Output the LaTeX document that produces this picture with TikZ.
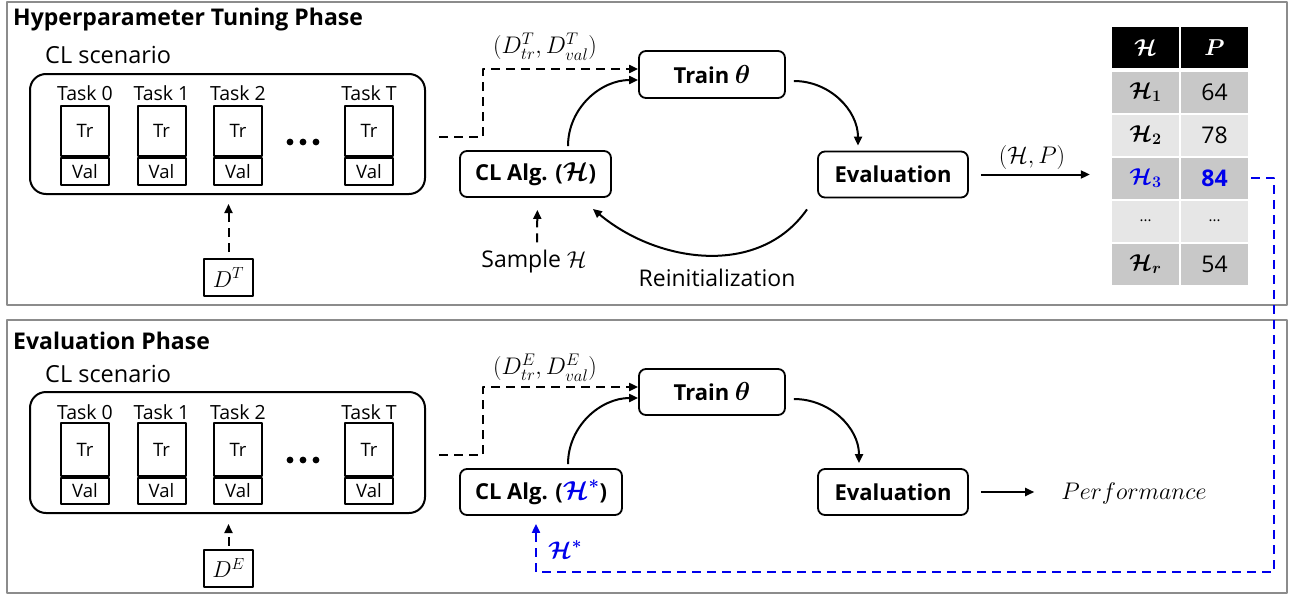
\RequirePackage{fix-cm}
\documentclass[tikz,border=0pt]{standalone}
\usepackage{amsmath}
\usepackage{bm}
\usepackage{fontspec}
\setmainfont{Open Sans}
\usetikzlibrary{arrows.meta}
\definecolor{frameg}{RGB}{140,140,140}
\definecolor{hblue}{RGB}{0,0,235}
\definecolor{rowdark}{RGB}{200,200,200}
\definecolor{rowlight}{RGB}{230,230,230}
\newcommand{\boxmath}[1]{{\fontsize{26}{28}\selectfont$#1$}}
\tikzset{
  frame/.style={draw=frameg, line width=2pt},
  ttl/.style={anchor=west, inner sep=0, font=\fontsize{23}{27}\selectfont\bfseries},
  sub/.style={anchor=west, inner sep=0, font=\fontsize{23.5}{28}\selectfont},
  scen/.style={draw, line width=2pt, rounded corners=16pt, minimum width=395pt, minimum height=120pt, inner sep=0},
  rbox/.style={draw, line width=1.8pt, rounded corners=7pt, inner sep=0, minimum height=46pt, font=\fontsize{22}{26}\selectfont\bfseries},
  trbox/.style={draw, line width=2pt, minimum width=48pt, inner sep=0, font=\fontsize{18.5}{21}\selectfont},
  tasklab/.style={inner sep=0, font=\fontsize{19.5}{23}\selectfont},
  dbox/.style={draw, line width=2pt, minimum width=49pt, minimum height=37pt, inner sep=0, font=\fontsize{23}{27}\selectfont},
  arr/.style={line width=2pt, -{Triangle[length=9pt,width=8pt]}},
  darr/.style={arr, dash pattern=on 9pt off 6pt},
  cell/.style={minimum width=67pt, minimum height=41pt, inner sep=0, font=\fontsize{23}{27}\selectfont},
  lbl/.style={inner sep=0, font=\fontsize{23}{27}\selectfont},
  mlbl/.style={inner sep=0, font=\fontsize{24}{28}\selectfont},
}
\begin{document}
\begin{tikzpicture}[x=1pt, y=-1pt, line join=round]
\useasboundingbox (0,0) rectangle (1289,594);
% frames
\draw[frame] (7,2) rectangle (1287,305);
\draw[frame] (7,320) rectangle (1287,593);
\node[ttl] (title1) at (13,20) {Hyperparameter Tuning Phase};
\node[ttl] (title2) at (13,341) {Evaluation Phase};
\node[sub] (cls1) at (45,55) {CL scenario};
\node[sub] (cls2) at (45,374) {CL scenario};
% scenario boxes
\node[scen] (scen1) at (227.5,134) {};
\node[scen, minimum height=121pt] (scen2) at (227.5,452.5) {};
\foreach \i/\x in {0/85,1/161.5,2/238,T/369}{
  \node[tasklab] (ta\i) at (\x,93) {Task \i};
  \node[trbox, minimum height=50pt] (tra\i) at (\x,131) {Tr};
  \node[trbox, minimum height=27pt, anchor=north] (vala\i) at (tra\i.south) {Val};
  \node[tasklab] (tb\i) at (\x,412) {Task \i};
  \node[trbox, minimum height=53pt] (trb\i) at (\x,449.5) {Tr};
  \node[trbox, minimum height=26pt, anchor=north] (valb\i) at (trb\i.south) {Val};
}
\foreach \x in {290,303,316}{
  \fill (\x,142) circle (3.4);
  \fill (\x,460) circle (3.4);
}
% data boxes
\node[dbox] (dT) at (228.5,277.5) {$D^{T}$};
\node[dbox] (dE) at (228.5,568) {$D^{E}$};
\draw[darr, shorten <=6pt, shorten >=9pt] (dT) -- (dT |- scen1.south);
\draw[darr, shorten <=3pt, shorten >=10pt] (dE) -- (dE |- scen2.south);
% main boxes top
\node[rbox, minimum width=146pt, minimum height=47pt] (train1) at (712,74.5) {Train \boxmath{\bm{\theta}}};
\node[rbox, minimum width=151pt] (cl1) at (535.5,174) {CL Alg. (\boxmath{\bm{\mathcal{H}}})};
\node[rbox, minimum width=150pt] (ev1) at (893,174.5) {Evaluation};
% main boxes bottom
\node[rbox, minimum width=146pt] (train2) at (712,392) {Train \boxmath{\bm{\theta}}};
\node[rbox, minimum width=162pt] (cl2) at (541,492) {CL Alg. (\textcolor{hblue}{\boxmath{\bm{\mathcal{H}^{*}}}})};
\node[rbox, minimum width=150pt] (ev2) at (893,492) {Evaluation};
% connectors top
\draw[darr] ([xshift=13pt,yshift=-3pt]scen1.east) -- ++(44,0) |- ([yshift=5.5pt]train1.west);
\node[mlbl] (dlab1) at (545,47) {$(D_{tr}^{T},D_{val}^{T})$};
\draw[arr] ([xshift=32.5pt,yshift=4pt]cl1.north) to[out=90,in=180] ([yshift=-5.5pt]train1.west);
\draw[arr] ([xshift=8pt,yshift=-6.5pt]train1.east) to[out=0,in=90] ([xshift=-35pt,yshift=5pt]ev1.north);
\draw[arr] ([xshift=-86pt,yshift=-11pt]ev1.south) to[out=-125,in=-40] ([xshift=-19pt,yshift=-11pt]cl1.south east);
\node[lbl] (reinit) at (717,278) {Reinitialization};
\node[lbl] (samp) at (534,262) {Sample $\mathcal{H}$};
\draw[darr, shorten >=12pt] ([xshift=3pt,yshift=8pt]samp.north) -- ([xshift=2pt]cl1.south);
% table
\node[cell, fill=black, text=white] (hH) at (1145.5,47.5) {$\bm{\mathcal{H}}$};
\node[cell, fill=black, text=white] (hP) at (1214.5,47.5) {$\bm{P}$};
\node[cell, fill=rowdark] (h1) at (1145.5,92) {$\bm{\mathcal{H}_1}$};
\node[cell, fill=rowdark] (p1) at (1214.5,92) {64};
\node[cell, fill=rowlight] (h2) at (1145.5,135) {$\bm{\mathcal{H}_2}$};
\node[cell, fill=rowlight] (p2) at (1214.5,135) {78};
\node[cell, fill=rowdark, text=hblue] (h3) at (1145.5,178) {$\bm{\mathcal{H}_3}$};
\node[cell, fill=rowdark, text=hblue, font=\fontsize{23}{27}\selectfont\bfseries] (p3) at (1214.5,178) {84};
\node[cell, fill=rowlight, font=\fontsize{15}{18}\selectfont] (h4) at (1145.5,221) {...};
\node[cell, fill=rowlight, font=\fontsize{15}{18}\selectfont] (p4) at (1214.5,221) {...};
\node[cell, fill=rowdark] (h5) at (1145.5,264) {$\bm{\mathcal{H}_r}$};
\node[cell, fill=rowdark] (p5) at (1214.5,264) {54};
\draw[arr, shorten <=12pt, shorten >=22pt] (ev1.east) -- (ev1.east -| h3.west);
\node[mlbl] (hplab) at (1032,157) {$(\mathcal{H},P)$};
% connectors bottom
\draw[darr] ([xshift=13pt,yshift=-2.5pt]scen2.east) -- ++(44,0) |- ([yshift=5pt]train2.west);
\node[mlbl] (dlab2) at (545,368) {$(D_{tr}^{E},D_{val}^{E})$};
\draw[arr] ([xshift=27pt,yshift=4pt]cl2.north) to[out=90,in=180] ([yshift=-6pt]train2.west);
\draw[arr] ([xshift=8pt,yshift=-7pt]train2.east) to[out=0,in=90] ([xshift=-34pt,yshift=5pt]ev2.north);
\node[mlbl] (perf) at (1134,493) {$Performance$};
\draw[arr, shorten <=12pt, shorten >=27pt] (ev2.east) -- (ev2.east -| perf.west);
% blue feedback
\coordinate (bend) at (1274,572);
\draw[line width=2pt, hblue, dash pattern=on 9pt off 6pt, -{Triangle[length=9pt,width=8pt]}] ([xshift=3pt]p3.east) -| (bend) -| ([xshift=-5pt,yshift=-8pt]cl2.south);
\node[mlbl, text=hblue] (hstar) at (565,550) {$\bm{\mathcal{H}^{*}}$};
\end{tikzpicture}
\end{document}
